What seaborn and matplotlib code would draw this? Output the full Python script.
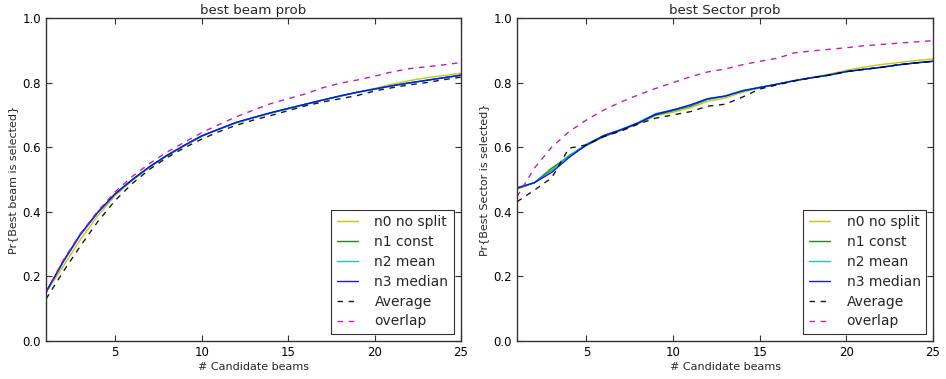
import numpy as np
import pandas as pd
import matplotlib
matplotlib.use("Agg")
import matplotlib.pyplot as plt
import seaborn as sns

n_beams = list(range(1, 26))

# best beam probability per number of candidate beams
beam_n0 = [0.15, 0.232, 0.315, 0.388, 0.45, 0.497, 0.538, 0.573, 0.604, 0.633, 0.655, 0.675, 0.69, 0.705,
           0.718, 0.732, 0.745, 0.758, 0.77, 0.782, 0.795, 0.806, 0.815, 0.822, 0.829]
beam_n1 = [0.15, 0.245, 0.33, 0.398, 0.455, 0.5, 0.54, 0.574, 0.605, 0.635, 0.656, 0.676, 0.692, 0.706,
           0.72, 0.733, 0.746, 0.758, 0.77, 0.78, 0.79, 0.799, 0.807, 0.815, 0.823]
beam_n2 = [0.151, 0.246, 0.33, 0.398, 0.455, 0.5, 0.54, 0.575, 0.606, 0.635, 0.656, 0.676, 0.692, 0.706,
           0.72, 0.733, 0.746, 0.758, 0.77, 0.78, 0.79, 0.799, 0.807, 0.815, 0.823]
beam_n3 = [0.152, 0.247, 0.331, 0.399, 0.456, 0.5, 0.54, 0.575, 0.606, 0.635, 0.656, 0.677, 0.692, 0.707,
           0.72, 0.733, 0.746, 0.759, 0.77, 0.78, 0.79, 0.799, 0.807, 0.815, 0.823]
beam_avg = [0.13, 0.215, 0.295, 0.37, 0.435, 0.488, 0.532, 0.568, 0.598, 0.625, 0.648, 0.668, 0.684, 0.698,
            0.713, 0.728, 0.74, 0.75, 0.76, 0.774, 0.784, 0.793, 0.8, 0.809, 0.817]
beam_overlap = [0.15, 0.25, 0.333, 0.402, 0.462, 0.51, 0.55, 0.585, 0.615, 0.645, 0.67, 0.694, 0.715, 0.735,
                0.75, 0.765, 0.784, 0.798, 0.808, 0.82, 0.833, 0.843, 0.849, 0.855, 0.862]

# best sector probability per number of candidate beams
sector_n0 = [0.47, 0.49, 0.53, 0.575, 0.605, 0.632, 0.652, 0.672, 0.698, 0.708, 0.722, 0.742, 0.752, 0.77,
             0.783, 0.795, 0.806, 0.816, 0.826, 0.838, 0.848, 0.856, 0.862, 0.868, 0.873]
sector_n1 = [0.472, 0.49, 0.535, 0.572, 0.606, 0.633, 0.653, 0.675, 0.7, 0.713, 0.727, 0.748, 0.758, 0.775,
             0.785, 0.795, 0.806, 0.815, 0.824, 0.834, 0.841, 0.848, 0.855, 0.861, 0.866]
sector_n2 = [0.474, 0.49, 0.527, 0.574, 0.609, 0.636, 0.655, 0.677, 0.704, 0.716, 0.73, 0.75, 0.759, 0.775,
             0.785, 0.795, 0.806, 0.815, 0.823, 0.834, 0.841, 0.847, 0.855, 0.861, 0.866]
sector_n3 = [0.474, 0.49, 0.522, 0.568, 0.607, 0.636, 0.654, 0.675, 0.702, 0.715, 0.731, 0.75, 0.758, 0.774,
             0.785, 0.795, 0.806, 0.815, 0.823, 0.834, 0.841, 0.847, 0.855, 0.861, 0.866]
sector_avg = [0.431, 0.467, 0.505, 0.597, 0.607, 0.633, 0.65, 0.672, 0.69, 0.7, 0.71, 0.727, 0.733, 0.755,
              0.78, 0.793, 0.805, 0.815, 0.823, 0.834, 0.841, 0.847, 0.855, 0.861, 0.866]
sector_overlap = [0.447, 0.535, 0.6, 0.648, 0.684, 0.715, 0.74, 0.762, 0.782, 0.8, 0.818, 0.833, 0.842, 0.855,
                  0.866, 0.875, 0.892, 0.898, 0.903, 0.908, 0.914, 0.918, 0.922, 0.926, 0.93]

labels = ["n0 no split", "n1 const", "n2 mean", "n3 median", "Average", "overlap"]
colors = [(0.75, 0.75, 0.0), (0.0, 0.5, 0.0), (0.0, 0.75, 0.75), (0.0, 0.0, 1.0), "k", "m"]
dashed = [False, False, False, False, True, True]

sns.set_style("white")
plt.rcParams["font.family"] = ["DejaVu Sans"]
plt.rcParams.update({
    "xtick.direction": "in", "ytick.direction": "in",
    "xtick.top": True, "ytick.right": True,
    "xtick.major.size": 4, "ytick.major.size": 4,
    "xtick.bottom": True, "ytick.left": True,
    "axes.edgecolor": "#333333", "axes.linewidth": 1.0,
})

fig = plt.figure(figsize=(9.46, 3.79), dpi=100)
ax1 = fig.add_axes([46 / 946, 1 - 341 / 379, 415 / 946, 323 / 379])
ax2 = fig.add_axes([517 / 946, 1 - 341 / 379, 416 / 946, 323 / 379])


def draw(ax, series, title, ylabel):
    for vals, lab, col, dsh in zip(series, labels, colors, dashed):
        df = pd.DataFrame({"n": n_beams, "p": vals})
        line_kw = {"dashes": (4, 4)} if dsh else {}
        sns.lineplot(data=df, x="n", y="p", ax=ax, color=col,
                     linewidth=1.0, alpha=0.9, label=lab, **line_kw)
    ax.set_xlim(1, 25)
    ax.set_ylim(0, 1.0)
    ax.set_xticks([5, 10, 15, 20, 25])
    ax.set_yticks([0.0, 0.2, 0.4, 0.6, 0.8, 1.0])
    ax.set_yticklabels(["0.0", "0.2", "0.4", "0.6", "0.8", "1.0"])
    ax.tick_params(labelsize=8.5, colors="#333333", labelcolor="black", width=0.8)
    ax.set_title(title, fontsize=9.6, pad=3)
    ax.set_xlabel("# Candidate beams", fontsize=8, labelpad=2)
    ax.set_ylabel(ylabel, fontsize=8, labelpad=3)
    for s in ax.spines.values():
        s.set_visible(True)
    leg = ax.legend(loc="lower right", fontsize=10, frameon=True, fancybox=False,
                    edgecolor="black", handlelength=1.5, handletextpad=1.2,
                    labelspacing=0.42, borderaxespad=0.5, borderpad=0.4)
    leg.get_frame().set_linewidth(0.8)


draw(ax1, [beam_n0, beam_n1, beam_n2, beam_n3, beam_avg, beam_overlap],
     "best beam prob", "Pr{Best beam is selected}")
draw(ax2, [sector_n0, sector_n1, sector_n2, sector_n3, sector_avg, sector_overlap],
     "best Sector prob", "Pr{Best Sector is selected}")

fig.savefig("out.png", dpi=100)
